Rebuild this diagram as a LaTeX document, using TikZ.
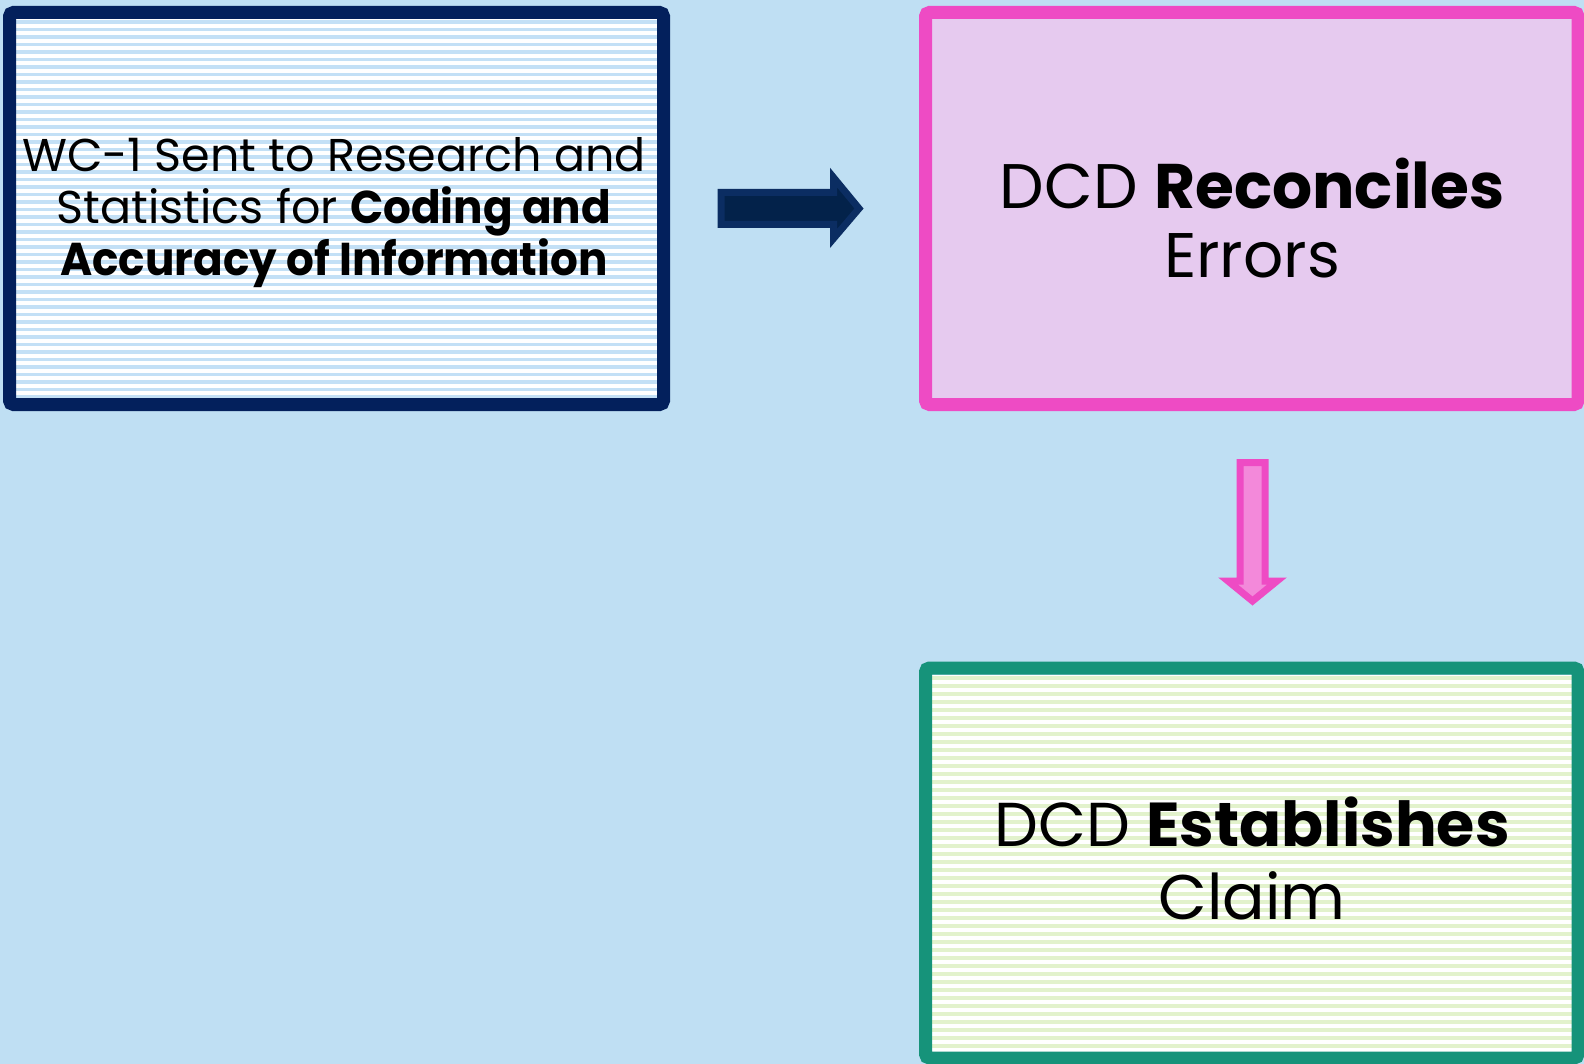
\documentclass[tikz,border=0pt]{standalone}
\usepackage{fontspec}
\setmainfont{Poppins}
\newfontfamily\bluefont[BoldFeatures={FakeStretch=0.95}]{Poppins}
\definecolor{bg}{HTML}{BFDFF3}
\definecolor{navy}{HTML}{03205C}
\definecolor{navyedge}{HTML}{0B2D62}
\definecolor{navyfill}{HTML}{03224A}
\definecolor{bluestripe}{HTML}{C3E0F6}
\definecolor{pinkedge}{HTML}{EE4BC4}
\definecolor{pinkfill}{HTML}{E6CAEF}
\definecolor{pinkarrow}{HTML}{F389DA}
\definecolor{teal}{HTML}{16937A}
\definecolor{greenstripe}{HTML}{E2F2CC}
\tikzset{
  boxframe/.style={line width=13pt, rounded corners=4pt},
  txt/.style={inner sep=0pt, anchor=base, text=black},
  bluetxt/.style={txt, font=\bluefont\fontsize{46}{52}\selectfont},
  blockarrow/.style={line width=7pt, line join=miter},
}
\begin{document}
\begin{tikzpicture}[x=1pt,y=-1pt]
\useasboundingbox (0,0) rectangle (1584,1064);
\fill[bg] (0,0) rectangle (1584,1064);
% blue box
\fill[white] (16,19) rectangle (657,398);
\foreach \y in {22,29.5,...,398} {\draw[bluestripe, line width=3.8pt] (16,\y) -- (657,\y);}
\draw[boxframe, navy] (9.5,12.5) rectangle (663.5,404.5);
\node[bluetxt] (b1) at (334,172) {WC-1 Sent to Research and};
\node[bluetxt] (b2) at (334,224) {Statistics for \textbf{Coding and}};
\node[bluetxt] (b3) at (334,276) {\textbf{Accuracy of Information}};
% pink box
\fill[pinkfill] (932,19) rectangle (1572,398);
\draw[boxframe, pinkedge] (925.5,12.5) rectangle (1578,404.5);
\node[txt, font=\fontsize{63}{69}\selectfont] (p1) at (1252,209) {DCD \textbf{Reconciles}};
\node[txt, font=\fontsize{63}{69}\selectfont] (p2) at (1252,278) {Errors};
% green box
\fill[white] (932,675) rectangle (1572,1052);
\foreach \y in {678,686,...,1052} {\draw[greenstripe, line width=4pt] (932,\y) -- (1572,\y);}
\draw[boxframe, teal] (925.5,668) rectangle (1578,1058);
\node[txt, font=\fontsize{62}{69}\selectfont] (g1) at (1252,846) {DCD \textbf{Establishes}};
\node[txt, font=\fontsize{63}{69}\selectfont] (g2) at (1252,919) {Claim};
% right arrow
\draw[blockarrow, navyedge, fill=navyfill] (721,192.5) -- (833.5,192.5) -- (833.5,177.5) -- (859,208.5) -- (833.5,238.5) -- (833.5,224.5) -- (721,224.5) -- cycle;
% down arrow
\draw[blockarrow, pinkedge, fill=pinkarrow] (1240,462.5) -- (1265,462.5) -- (1265,581) -- (1277,581) -- (1252.5,601) -- (1228,581) -- (1240,581) -- cycle;
\end{tikzpicture}
\end{document}
